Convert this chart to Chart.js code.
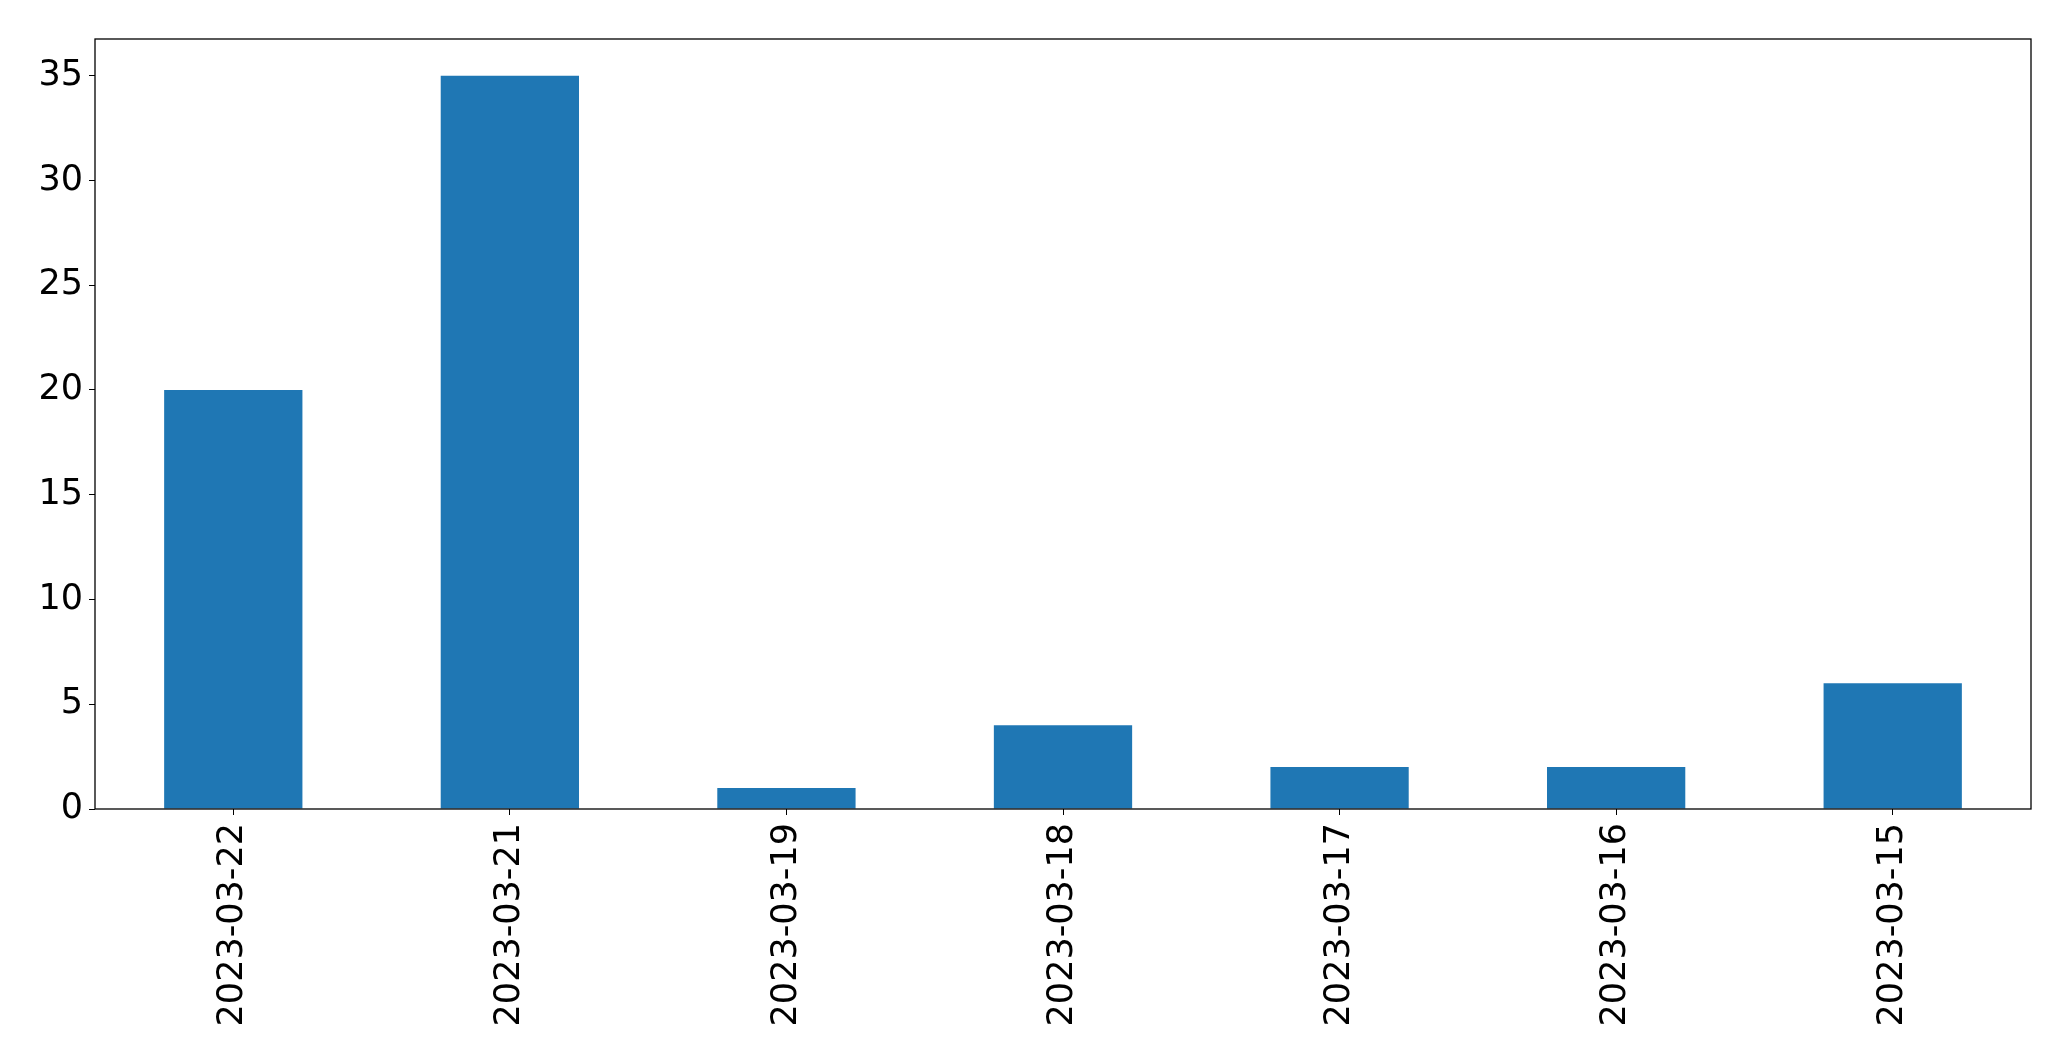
<!DOCTYPE html>
<html>
<head>
<meta charset="utf-8">
<script src="https://cdn.jsdelivr.net/npm/chart.js@4"></script>
<style>
  html, body { margin: 0; padding: 0; background: #fff; }
  #wrap { width: 2071px; height: 1061px; }
</style>
</head>
<body>
<div id="wrap"><canvas id="myChart" width="2071" height="1061"></canvas></div>
<script>
var labels = ["2023-03-22", "2023-03-21", "2023-03-19", "2023-03-18", "2023-03-17", "2023-03-16", "2023-03-15"];
var counts = [20, 35, 1, 4, 2, 2, 6];
var yTicks = [0, 5, 10, 15, 20, 25, 30, 35];

Chart.defaults.font.family = "'DejaVu Sans', sans-serif";
Chart.defaults.font.size = 35;
Chart.defaults.color = "#000";

// frame around the plot like matplotlib's spines
var frame = {
  id: "frame",
  afterDraw: function (chart) {
    var a = chart.chartArea, c = chart.ctx;
    c.save();
    c.strokeStyle = "#000";
    c.lineWidth = 1.3;
    c.strokeRect(a.left, a.top, a.right - a.left, a.bottom - a.top);
    c.restore();
  }
};

var ctx = document.getElementById("myChart").getContext("2d");

var myChart = new Chart(ctx, {
  type: "bar",
  data: {
    labels: labels,
    datasets: [{
      data: counts,
      backgroundColor: "#1f77b4",
      categoryPercentage: 1.0,
      barPercentage: 0.5
    }]
  },
  options: {
    responsive: false,
    animation: false,
    layout: { padding: { top: 39, right: 40, left: 0, bottom: 0 } },
    scales: {
      x: {
        grid: { display: true, offset: false, drawOnChartArea: false, drawTicks: true, tickLength: 6, color: "#000" },
        border: { display: false },
        ticks: { minRotation: 90, maxRotation: 90, padding: 8, autoSkip: false },
        afterFit: function (scale) { scale.height = 1061 - 809; }
      },
      y: {
        min: 0,
        max: 36.75,
        grid: { display: true, drawOnChartArea: false, drawTicks: true, tickLength: 6, color: "#000" },
        border: { display: false },
        ticks: { stepSize: 5, includeBounds: false, padding: 6 },
        afterBuildTicks: function (scale) {
          scale.ticks = yTicks.map(function (v) { return { value: v }; });
        },
        afterFit: function (scale) { scale.width = 95; }
      }
    },
    plugins: {
      legend: { display: false },
      tooltip: { enabled: false }
    }
  },
  plugins: [frame]
});
</script>
</body>
</html>
